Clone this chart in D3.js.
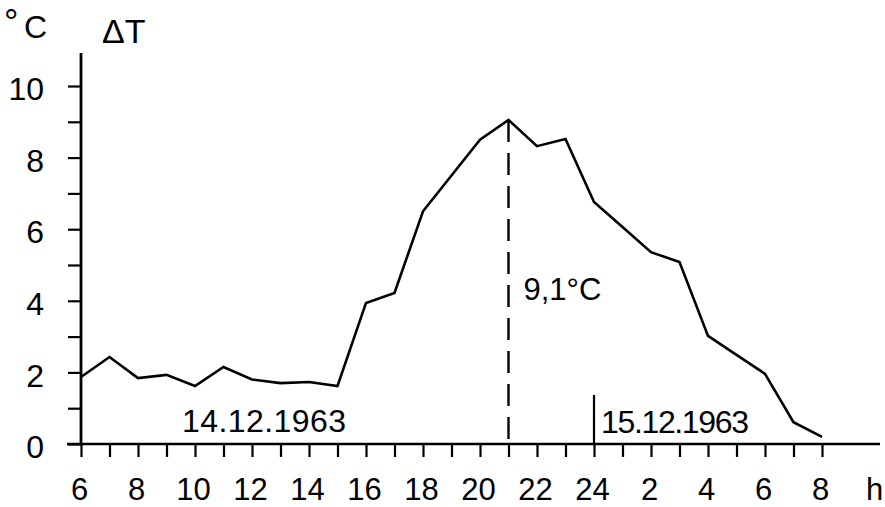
<!DOCTYPE html>
<html>
<head>
<meta charset="utf-8">
<script src="https://cdn.jsdelivr.net/npm/d3@7"></script>
<style>
  body { margin: 0; background: #fff; }
  svg text { font-family: "Liberation Sans", Arial, sans-serif; fill: #000; }
</style>
</head>
<body>
<script>
//hour labels along the x axis (14.12. 6 h to 15.12. 8 h)
var hourLabels = [6,7,8,9,10,11,12,13,14,15,16,17,18,19,20,21,22,23,24,1,2,3,4,5,6,7,8];
//temperature difference ΔT in °C, one value per hour
var deltaT = [1.87,2.43,1.84,1.93,1.62,2.15,1.80,1.70,1.73,1.62,3.94,4.22,6.50,7.50,8.50,9.05,8.32,8.52,6.76,6.06,5.36,5.08,3.02,2.49,1.96,0.61,0.20];
var yTicks = [0,1,2,3,4,5,6,7,8,9,10];
var peakIndex = 15;      //21 h
var dayBreakIndex = 18;  //24 h
var dateLabels = ["14.12.1963", "15.12.1963"];

var width = 885, height = 507;

var svg = d3.select("body").append("svg")
    .attr("width", width)
    .attr("height", height);

//scales
var x = d3.scaleLinear().domain([0, hourLabels.length - 1]).range([81, 822]);
var y = d3.scaleLinear().domain([0, 10]).range([444, 86]);

//x axis with a tick every hour, labels every second hour
var xAxis = d3.axisBottom(x)
    .tickValues(d3.range(hourLabels.length))
    .tickSizeInner(13)
    .tickSizeOuter(0)
    .tickPadding(21)
    .tickFormat(function(i){ return i % 2 === 0 ? hourLabels[i] : ""; });

var gx = svg.append("g")
    .attr("transform", "translate(0," + y(0) + ")")
    .call(xAxis);
gx.select(".domain").remove();
gx.selectAll("line").attr("stroke", "#000").attr("stroke-width", 2.2);
gx.selectAll("text")
    .attr("font-size", 31)
    .attr("dx", -2);

//y axis
var yAxis = d3.axisLeft(y)
    .tickValues(yTicks)
    .tickSizeInner(13)
    .tickSizeOuter(0)
    .tickPadding(24)
    .tickFormat(function(d){ return d % 2 === 0 ? d : ""; });

var gy = svg.append("g")
    .attr("transform", "translate(" + x(0) + ",0)")
    .call(yAxis);
gy.select(".domain").remove();
gy.selectAll("line").attr("stroke", "#000").attr("stroke-width", 2.2);
gy.selectAll("text")
    .attr("font-size", 32)
    .attr("dy", "0.43em");

//axis lines, drawn a little past the ticks like the original
svg.append("line")
    .attr("x1", 67).attr("x2", 880)
    .attr("y1", y(0)).attr("y2", y(0))
    .attr("stroke", "#000").attr("stroke-width", 2.5);
svg.append("line")
    .attr("x1", x(0)).attr("x2", x(0))
    .attr("y1", 53).attr("y2", y(0))
    .attr("stroke", "#000").attr("stroke-width", 2.8);

//unit and axis titles
svg.append("text").attr("x", 4).attr("y", 35).attr("font-size", 36).text("°");
svg.append("text").attr("x", 24).attr("y", 38).attr("font-size", 32).text("C");
svg.append("text").attr("x", 102).attr("y", 43).attr("font-size", 34).text("ΔT");
svg.append("text").attr("x", 866).attr("y", 500).attr("font-size", 31).text("h");

//data line
var line = d3.line()
    .x(function(d, i){ return x(i); })
    .y(function(d){ return y(d); });

svg.append("path")
    .datum(deltaT)
    .attr("d", line)
    .attr("fill", "none")
    .attr("stroke", "#000")
    .attr("stroke-width", 2.6)
    .attr("stroke-linejoin", "miter");

//dashed line under the maximum
svg.append("line")
    .attr("x1", x(peakIndex)).attr("x2", x(peakIndex))
    .attr("y1", y(deltaT[peakIndex])).attr("y2", y(0))
    .attr("stroke", "#000")
    .attr("stroke-width", 2.4)
    .attr("stroke-dasharray", "22,11");

svg.append("text")
    .attr("x", x(peakIndex) + 15)
    .attr("y", 300)
    .attr("font-size", 31)
    .text("9,1°C");

//day separator at 24 h
svg.append("line")
    .attr("x1", x(dayBreakIndex)).attr("x2", x(dayBreakIndex))
    .attr("y1", y(1.37)).attr("y2", y(0))
    .attr("stroke", "#000").attr("stroke-width", 2.2);

//date labels
svg.append("text")
    .attr("x", 182).attr("y", 432)
    .attr("font-size", 32)
    .attr("textLength", 164).attr("lengthAdjust", "spacing")
    .text(dateLabels[0]);
svg.append("text")
    .attr("x", 601).attr("y", 433)
    .attr("font-size", 32)
    .attr("textLength", 148).attr("lengthAdjust", "spacing")
    .text(dateLabels[1]);
</script>
</body>
</html>
